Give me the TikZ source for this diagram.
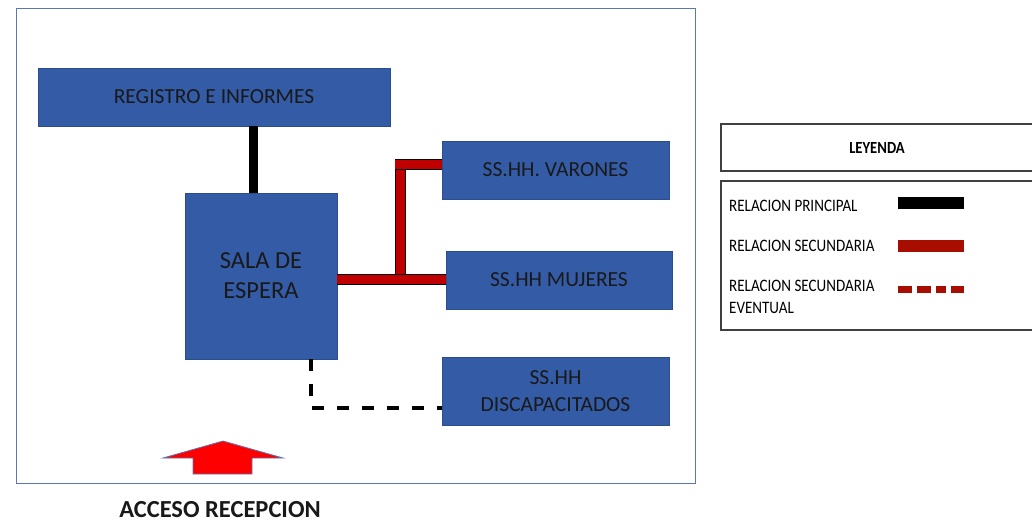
\documentclass[tikz,border=0pt]{standalone}
\usepackage{fontspec}
\setmainfont{Carlito}
\newfontfamily\keyfont[FakeStretch=0.86]{Carlito}
\definecolor{areablue}{RGB}{52,91,166}
\definecolor{framegray}{RGB}{90,120,180}
\definecolor{linkred}{RGB}{192,0,0}
\definecolor{keyred}{RGB}{168,14,0}
\definecolor{boxtext}{RGB}{25,25,25}
\begin{document}
\begin{tikzpicture}[x=1pt, y=-1pt,
  area/.style={fill=areablue, draw=areablue!85!black, line width=0.6pt, text=boxtext, align=center, inner sep=0pt, font=\fontsize{21.5}{26}\selectfont},
  mainlink/.style={draw=black, line width=9pt},
  seclink/.style={draw=linkred, line width=9pt, preaction={draw=black, line width=11pt}},
  eventlink/.style={draw=black, line width=4.5pt, dash pattern=on 12pt off 13pt},
  keybox/.style={draw=black!75, line width=1.1pt},
  keytext/.style={anchor=base west, inner sep=0pt, font=\keyfont\fontsize{17.5}{22}\selectfont, align=left}]
\useasboundingbox (0,0) rectangle (1032,526);
% outer frame
\draw[framegray, line width=1pt] (16,9) rectangle (695,483);
% areas
\node[area, minimum width=352pt, minimum height=58pt] (registro) at (214,97) {REGISTRO E INFORMES};
\node[area, minimum width=152pt, minimum height=166pt, font=\fontsize{24.5}{30}\selectfont] (sala) at (261,276) {SALA DE\\ESPERA};
\node[area, minimum width=227pt, minimum height=58pt] (varones) at (555.5,170) {SS.HH. VARONES};
\node[area, minimum width=226pt, minimum height=58pt] (mujeres) at (559,280) {SS.HH MUJERES};
\node[area, minimum width=227pt, minimum height=68pt, font=\fontsize{21.5}{27}\selectfont] (disc) at (555.5,391) {SS.HH\\DISCAPACITADOS};
% relations
\draw[mainlink] ([xshift=-8pt]sala.north |- registro.south) -- ([xshift=-8pt]sala.north);
\coordinate (jlow) at (400,280);
\coordinate (jup) at (400,165);
\draw[seclink] (jlow) -- (jup);
\draw[seclink] ([xshift=-5pt]jup) -- (jup -| varones.west);
\draw[seclink] (sala.east |- mujeres.west) -- (mujeres.west);
\draw[eventlink] ([xshift=50pt]sala.south) |- ([yshift=-17pt]disc.west);
% access
\draw[fill=red, draw=framegray, line width=0.8pt] (193,474) -- (193,458) -- (163,458) -- (223,441) -- (283,458) -- (252,458) -- (252,474) -- cycle;
\node[font=\fontsize{24.5}{28}\selectfont\bfseries, text=boxtext] (acceso) at (220,510) {ACCESO RECEPCION};
% legend
\draw[keybox] (1040,124) -- (721,124) -- (721,171) -- (1040,171);
\node[font=\keyfont\fontsize{17}{20}\selectfont\bfseries] (leyenda) at (877,148) {LEYENDA};
\draw[keybox] (1040,181) -- (721,181) -- (721,330) -- (1040,330);
\node[keytext] (kprin) at (729,212) {RELACION PRINCIPAL};
\node[keytext] (ksec) at (729,252) {RELACION SECUNDARIA};
\node[keytext] (kev) at (729,313) {RELACION SECUNDARIA\\EVENTUAL};
\draw[black, line width=12pt] (898,203) -- (964,203);
\draw[keyred, line width=12pt] (898,246) -- (964,246);
\draw[keyred, line width=7pt, dash pattern=on 14pt off 5pt on 14pt off 5pt on 10pt off 5pt] (898,289.5) -- (964,289.5);
\end{tikzpicture}
\end{document}
